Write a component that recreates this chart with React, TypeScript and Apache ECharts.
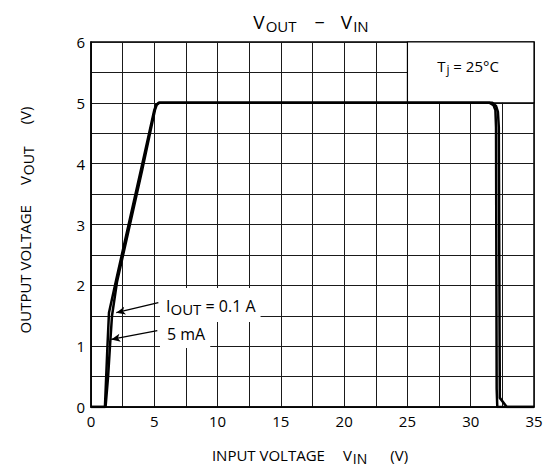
import React, { useEffect, useRef } from "react";
import * as echarts from "echarts";

// Curve for IOUT = 5 mA
const vin5mA = [0, 1.1, 1.2, 1.3, 1.42, 2.0, 4.0, 5.0, 5.15, 5.35, 31.5, 31.8, 31.95, 32.0, 32.05, 32.1, 35];
const vout5mA = [0, 0, 0.5, 1.0, 1.55, 2.1, 3.95, 4.88, 4.97, 5.0, 5.0, 4.96, 4.88, 4.6, 0.3, 0, 0];
// Curve for IOUT = 0.1 A
const vin01A = [0, 1.15, 1.35, 1.5, 1.66, 2.05, 4.05, 5.05, 5.2, 5.4, 31.7, 32.0, 32.15, 32.22, 32.3, 32.85, 35];
const vout01A = [0, 0, 0.5, 1.0, 1.5, 2.05, 3.9, 4.88, 4.97, 5.0, 5.0, 4.95, 4.85, 4.6, 0.15, 0, 0];

const xTickLabels = [0, 5, 10, 15, 20, 25, 30, 35];
const yTickLabels = [0, 1, 2, 3, 4, 5, 6];

// annotation arrows: [tail, head]
const arrow01A = [[5.32, 1.715], [2.0, 1.55]];
const arrow5mA = [[5.24, 1.255], [1.6, 1.11]];
// Tj legend box corners
const tjBox = [[25, 5], [35, 6]];

const FONT = "Open Sans";

export default function App() {
  const ref = useRef<HTMLDivElement>(null);
  useEffect(() => {
    const chart = echarts.init(ref.current!, null, { renderer: "svg" });
    const option: any = {
      animation: false,
      backgroundColor: "#fff",
      textStyle: { fontFamily: FONT, color: "#000" },
      grid: {
        left: 91,
        right: 13,
        top: 42,
        bottom: 63,
        show: true,
        borderColor: "#000",
        borderWidth: 1.5,
        backgroundColor: "transparent",
      },
      xAxis: {
        type: "value",
        min: 0,
        max: 35,
        interval: 2.5,
        axisLine: { show: true, lineStyle: { color: "#000", width: 1.5 } },
        axisTick: { show: false },
        splitLine: { show: true, lineStyle: { color: "#1a1a1a", width: 1 } },
        axisLabel: {
          margin: 6,
          fontSize: 15,
          fontFamily: FONT,
          color: "#000",
          formatter: (v: number) => (xTickLabels.includes(v) ? String(v) : ""),
        },
      },
      yAxis: {
        type: "value",
        min: 0,
        max: 6,
        interval: 0.5,
        axisLine: { show: true, lineStyle: { color: "#000", width: 1.5 } },
        axisTick: { show: false },
        splitLine: { show: true, lineStyle: { color: "#1a1a1a", width: 1 } },
        axisLabel: {
          margin: 6,
          fontSize: 15,
          fontFamily: FONT,
          color: "#000",
          formatter: (v: number) => (yTickLabels.includes(v) ? String(v) : ""),
        },
      },
      series: [
        {
          type: "line",
          data: [],
          z: 1,
          silent: true,
          markArea: {
            silent: true,
            itemStyle: { color: "#fff", borderColor: "#000", borderWidth: 1.2 },
            data: [[{ coord: tjBox[0] }, { coord: tjBox[1] }]],
          },
        },
        {
          name: "5 mA",
          type: "line",
          z: 3,
          showSymbol: false,
          symbol: "none",
          lineStyle: { color: "#000", width: 2.5 },
          data: vin5mA.map((x, i) => [x, vout5mA[i]]),
        },
        {
          name: "0.1 A",
          type: "line",
          z: 3,
          showSymbol: false,
          symbol: "none",
          lineStyle: { color: "#000", width: 2.5 },
          data: vin01A.map((x, i) => [x, vout01A[i]]),
        },
        {
          type: "line",
          data: [],
          z: 5,
          silent: true,
          markLine: {
            silent: true,
            symbol: ["none", "arrow"],
            symbolSize: [6, 9],
            label: { show: false },
            lineStyle: { color: "#000", width: 1.3, type: "solid" },
            data: [
              [{ coord: arrow01A[0] }, { coord: arrow01A[1] }],
              [{ coord: arrow5mA[0] }, { coord: arrow5mA[1] }],
            ],
          },
        },
      ],
      graphic: [
        {
          type: "text",
          x: 311,
          y: 22,
          style: {
            text: "{v|V}{s|OUT}{m|−}{v|V}{s|IN}",
            align: "center",
            verticalAlign: "middle",
            fill: "#000",
            rich: {
              v: { fontSize: 19, fontFamily: FONT, fill: "#000" },
              s: { fontSize: 15, fontFamily: FONT, fill: "#000", padding: [7, 0, 0, 1] },
              m: { fontSize: 18, fontFamily: FONT, fill: "#000", padding: [0, 16, 0, 18] },
            },
          },
        },
        {
          type: "text",
          x: 310,
          y: 455,
          style: {
            text: "{t|INPUT VOLTAGE}{v|V}{s|IN}{t|(V)}",
            align: "center",
            verticalAlign: "middle",
            rich: {
              t: { fontSize: 15, fontFamily: FONT, fill: "#000" },
              v: { fontSize: 15, fontFamily: FONT, fill: "#000", padding: [0, 0, 0, 18] },
              s: { fontSize: 14, fontFamily: FONT, fill: "#000", padding: [6, 23, 0, 1] },
            },
          },
        },
        {
          type: "text",
          x: 25,
          y: 220,
          rotation: Math.PI / 2,
          style: {
            text: "{t|OUTPUT VOLTAGE}{v|V}{s|OUT}{t|(V)}",
            align: "center",
            verticalAlign: "middle",
            rich: {
              t: { fontSize: 15, fontFamily: FONT, fill: "#000" },
              v: { fontSize: 15, fontFamily: FONT, fill: "#000", padding: [0, 0, 0, 20] },
              s: { fontSize: 14, fontFamily: FONT, fill: "#000", padding: [6, 22, 0, 1] },
            },
          },
        },
        {
          type: "text",
          x: 468,
          y: 66,
          z: 10,
          style: {
            text: "{t|T}{s|j}{t| = 25°C}",
            align: "center",
            verticalAlign: "middle",
            rich: {
              t: { fontSize: 15, fontFamily: FONT, fill: "#000" },
              s: { fontSize: 12, fontFamily: FONT, fill: "#000", padding: [6, 0, 0, 1] },
            },
          },
        },
        {
          type: "text",
          x: 160,
          y: 305,
          z: 4,
          style: {
            text: "{t|I}{s|OUT}{t| = 0.1 A}",
            align: "left",
            verticalAlign: "middle",
            backgroundColor: "#fff",
            padding: [7, 5, 6, 6],
            rich: {
              t: { fontSize: 16, fontFamily: FONT, fill: "#000" },
              s: { fontSize: 15, fontFamily: FONT, fill: "#000", padding: [6, 0, 0, 0] },
            },
          },
        },
        {
          type: "text",
          x: 160,
          y: 334,
          z: 4,
          style: {
            text: "5 mA",
            font: `16px "${FONT}"`,
            fill: "#000",
            align: "left",
            verticalAlign: "middle",
            backgroundColor: "#fff",
            padding: [6, 5, 6, 7],
          },
        },
      ],
    };
    chart.setOption(option);
    return () => chart.dispose();
  }, []);
  return (
    <div
      ref={ref}
      style={{ position: "fixed", left: 0, top: 0, width: 547, height: 470 }}
    />
  );
}
